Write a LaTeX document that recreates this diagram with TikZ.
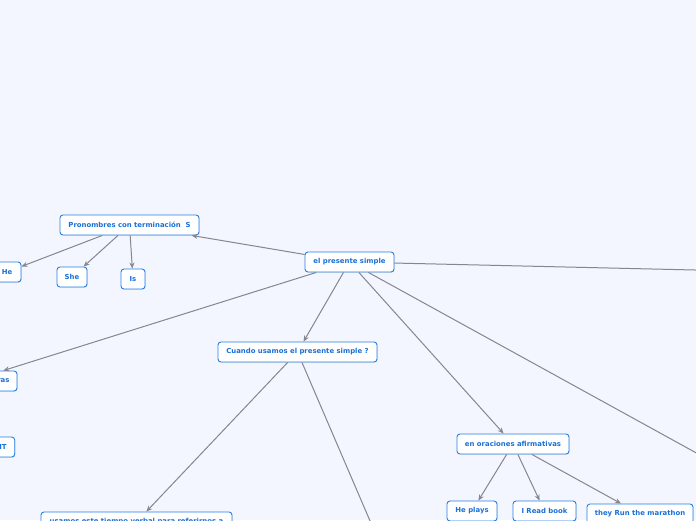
\documentclass[tikz,border=0pt]{standalone}
\usepackage{fontspec}
\newfontfamily\mapfont{DejaVu Sans}
\usetikzlibrary{arrows.meta,shadows}
\definecolor{mapbg}{RGB}{243,246,254}
\definecolor{mapblue}{RGB}{38,128,228}
\definecolor{maptext}{RGB}{26,112,214}
\definecolor{mapline}{RGB}{132,134,144}
\tikzset{
  topic/.style={draw=mapblue,fill=white,rounded corners=3pt,line width=0.9pt,
    text=maptext,font=\mapfont\bfseries\fontsize{6.9}{8}\selectfont,
    minimum height=20pt,inner xsep=4pt,inner ysep=0pt,
    drop shadow={shadow xshift=0.6pt,shadow yshift=-0.6pt,opacity=0.25}},
  link/.style={draw=mapline,line width=1pt,-{Stealth[length=6pt,width=5pt]}}
}

\begin{document}
\begin{tikzpicture}[x=1pt,y=-1pt]
\useasboundingbox (0,0) rectangle (696,520);
\fill[mapbg] (0,0) rectangle (696,520);
\clip (0,0) rectangle (696,520);
\node[topic,minimum width=89pt] (ps) at (349.5,262) {el presente simple};
\node[topic,minimum width=139pt] (pr) at (129.5,225) {Pronombres con terminación\ \ S};
\node[topic,minimum width=28pt] (he) at (7,272) {He};
\node[topic,minimum width=30pt] (she) at (72,277) {She};
\node[topic,minimum width=24pt] (is) at (133,279) {Is};
\node[topic,text width=79pt,inner xsep=7.5pt,align=right] (ras) at (-30,381) {ras};
\node[topic,text width=24pt,inner xsep=8pt,align=right] (it) at (-5.3,447) {IT};
\node[topic,minimum width=159pt] (cu) at (297.5,352) {Cuando usamos el presente simple ?};
\node[topic,minimum width=112pt] (en) at (513,444) {en oraciones afirmativas};
\node[topic,minimum width=50pt] (hp) at (472,511) {He plays};
\node[topic,minimum width=63pt] (rbk) at (544.5,511) {I Read book};
\node[topic,minimum width=106pt] (tr) at (640,514) {they Run the marathon};
\node[topic,minimum width=191pt] (us) at (136.5,522) {usamos este tiempo verbal para referirnos a};
\coordinate (offr) at (760,271.5);
\coordinate (offdr) at (760,488);
\coordinate (offd) at (404,600);
\draw[link] (ps) -- (pr);
\draw[link] (pr) -- (he);
\draw[link] (pr) -- (she);
\draw[link] (pr) -- (is);
\draw[link] (ps) -- (ras);
\draw[link] (ps) -- (cu);
\draw[link] (ps) -- (en);
\draw[link] (ps) -- (offr);
\draw[link] (ps) -- (offdr);
\draw[link] (cu) -- (us);
\draw[link] (cu) -- (offd);
\draw[link] (en) -- (hp);
\draw[link] (en) -- (rbk);
\draw[link] (en) -- (tr);
\end{tikzpicture}
\end{document}
